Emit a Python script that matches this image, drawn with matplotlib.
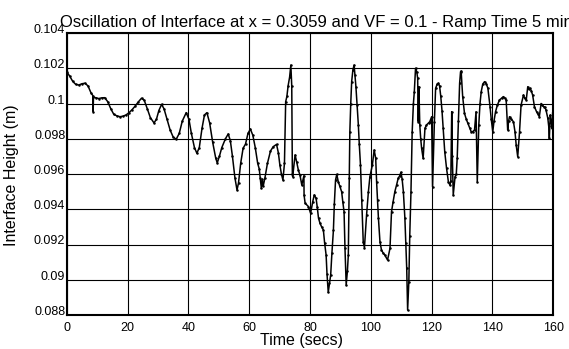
import matplotlib
matplotlib.use("Agg")
import matplotlib.pyplot as plt

# Time (s) and interface height (m)
time_s = [
    0, 1, 2, 3, 4, 5, 6, 7, 8, 8.6, 8.7, 8.8, 9.5, 10.5, 11.5, 12.5, 13.5, 14.5, 15.5,
    16.5, 17.5, 18.5, 19.5, 20.5, 21.5, 22.5, 23.5, 24.6, 25.5, 26.5, 27.5, 28.7, 29.5,
    30.3, 31.2, 32, 33, 34, 35, 36, 37, 38, 39.3, 40.2, 41, 42, 42.8, 43.6, 44.5, 45.3,
    46.1, 47, 48, 49, 49.5, 50.2, 51, 52.2, 53.1, 53.8, 54.5, 55.3, 56, 56.5, 57.2, 58,
    58.8, 59.6, 60.4, 61.2, 62, 62.8, 63.3, 63.6, 64, 64.3, 64.6, 65.2, 66, 67, 67.9,
    69, 69.6, 70.1, 70.6, 71.1, 71.6, 72, 72.4, 72.8, 73.3, 73.7, 74, 74.2, 74.3, 75.1,
    75.6, 76.2, 76.7, 77.3, 78, 78.05, 78.4, 79.5, 80.2, 80.9, 81.4, 82, 82.4, 82.8,
    83.3, 83.8, 84.4, 84.8, 85.3, 85.6, 86, 86.4, 86.8, 87.2, 87.7, 88, 88.4, 88.8,
    89.3, 89.8, 90.4, 90.8, 91.2, 91.5, 91.9, 92.3, 92.6, 92.9, 93.1, 93.4, 93.7, 94.1,
    94.5, 94.8, 95.1, 95.5, 95.9, 96.2, 96.6, 97, 97.5, 97.9, 98.6, 99.2, 99.7, 100.5,
    101.1, 101.6, 101.9, 102.2, 102.5, 103, 103.5, 104.1, 104.6, 105.5, 106.3, 106.8,
    107.3, 107.9, 108.5, 109, 109.5, 109.9, 110.3, 110.7, 111.2, 111.5, 111.8, 112.1,
    112.5, 112.8, 113.2, 113.6, 114, 114.3, 114.7, 115.1, 115.4, 115.6, 115.8, 116.1,
    116.4, 116.7, 117.2, 117.8, 118.3, 119, 119.4, 120, 120.3, 120.9, 121.3, 121.8,
    122.2, 122.6, 123, 123.4, 123.8, 124.3, 124.9, 125.5, 126, 126.3, 126.6, 126.8,
    127.1, 127.7, 128.1, 128.4, 128.8, 129.2, 129.5, 129.7, 130.2, 130.8, 131.4, 131.9,
    132.5, 133, 133.5, 134.1, 134.6, 135, 135.5, 135.9, 136.3, 136.8, 137.4, 138, 138.5,
    139.2, 139.6, 140.1, 140.5, 141, 141.6, 142.3, 143, 143.6, 144.1, 144.5, 145, 145.3,
    145.6, 146.2, 146.9, 147.4, 147.8, 148.3, 148.9, 149.4, 150.2, 150.6, 151.1, 151.6,
    152, 152.4, 152.8, 153.2, 153.8, 154.5, 155, 155.4, 156, 156.4, 156.8, 157.2, 157.6,
    158.2, 158.5, 158.7, 159, 159.3, 159.6, 159.8, 160,
]
height_m = [
    0.1018, 0.10155, 0.10125, 0.10108, 0.10105, 0.10112, 0.10115, 0.1010, 0.1006,
    0.10045, 0.09954, 0.10035, 0.10033, 0.10028, 0.10032, 0.10033, 0.1001, 0.0997,
    0.09938, 0.0993, 0.09925, 0.09928, 0.09935, 0.09948, 0.09965, 0.09985, 0.10008,
    0.1003, 0.10018, 0.0997, 0.0992, 0.0989, 0.0991, 0.0996, 0.09995, 0.0997, 0.0991,
    0.0985, 0.0981, 0.09797, 0.0983, 0.0990, 0.09948, 0.0991, 0.0983, 0.0975, 0.09718,
    0.0975, 0.0986, 0.09935, 0.09948, 0.0989, 0.0978, 0.0969, 0.09663, 0.0970, 0.0975,
    0.0980, 0.09827, 0.0979, 0.0970, 0.0958, 0.09509, 0.0955, 0.0966, 0.09746, 0.0977,
    0.0983, 0.09855, 0.0982, 0.0975, 0.0966, 0.0963, 0.0958, 0.09519, 0.0957, 0.0953,
    0.0958, 0.0966, 0.0973, 0.09755, 0.09768, 0.0972, 0.0965, 0.0960, 0.09566, 0.0966,
    0.1001, 0.1004, 0.1010, 0.1015, 0.10218, 0.1010, 0.0960, 0.09585, 0.09708, 0.0967,
    0.0962, 0.09594, 0.09538, 0.0959, 0.0948, 0.09434, 0.09415, 0.09377, 0.09443,
    0.09481, 0.09462, 0.0941, 0.09349, 0.0932, 0.09301, 0.09282, 0.0921, 0.0914,
    0.0903, 0.08929, 0.0898, 0.09027, 0.0915, 0.09282, 0.0943, 0.09566, 0.09598,
    0.09556, 0.0953, 0.095, 0.0944, 0.09386, 0.0918, 0.0897, 0.0905, 0.0914, 0.0958,
    0.0984, 0.1000, 0.10124, 0.1019, 0.10218, 0.1016, 0.10095, 0.0999, 0.09878, 0.0977,
    0.09651, 0.0945, 0.09216, 0.09182, 0.09367, 0.095, 0.09585, 0.09651, 0.09736,
    0.09689, 0.09556, 0.0945, 0.09349, 0.09216, 0.09169, 0.0915, 0.0914, 0.09112,
    0.09178, 0.09386, 0.0944, 0.095, 0.0954, 0.09576, 0.0959, 0.0961, 0.0957, 0.095,
    0.09349, 0.0921, 0.09065, 0.08828, 0.08989, 0.0925, 0.095, 0.0984, 0.1000, 0.10067,
    0.102, 0.1018, 0.10143, 0.09897, 0.10095, 0.09878, 0.0980, 0.09746, 0.09689,
    0.09859, 0.09878, 0.0989, 0.09897, 0.09925, 0.09528, 0.09897, 0.10086, 0.1011,
    0.10115, 0.1010, 0.1004, 0.0996, 0.0986, 0.09727, 0.09632, 0.09556, 0.09537, 0.0956,
    0.09953, 0.0970, 0.09481, 0.09585, 0.0960, 0.09689, 0.0990, 0.10115, 0.1018,
    0.10184, 0.10039, 0.09944, 0.0991, 0.09888, 0.0986, 0.0984, 0.0984, 0.0985, 0.09953,
    0.09556, 0.09878, 0.1000, 0.10067, 0.1011, 0.10124, 0.1011, 0.10086, 0.09982,
    0.0991, 0.0984, 0.0990, 0.09953, 0.0999, 0.1002, 0.1003, 0.10039, 0.1003, 0.1002,
    0.0985, 0.0990, 0.09925, 0.0991, 0.09897, 0.0984, 0.09764, 0.09698, 0.0984,
    0.09991, 0.10048, 0.1003, 0.1002, 0.10095, 0.1008, 0.10086, 0.1007, 0.10048,
    0.09982, 0.09953, 0.0994, 0.09925, 0.1000, 0.0999, 0.09982, 0.0998, 0.09963,
    0.09916, 0.0987, 0.09803, 0.09935, 0.0990, 0.09859, 0.0995, 0.0980,
]

x_ticks = [0, 20, 40, 60, 80, 100, 120, 140, 160]
y_ticks = [0.088, 0.09, 0.092, 0.094, 0.096, 0.098, 0.1, 0.102, 0.104]
y_tick_labels = ["0.088", "0.09", "0.092", "0.094", "0.096", "0.098", "0.1", "0.102", "0.104"]

plt.rcParams["font.family"] = ["Liberation Sans", "DejaVu Sans"]

fig = plt.figure(figsize=(5.69, 3.49), dpi=100)
ax = fig.add_axes([66.7 / 569, 1 - 315 / 349, (553.3 - 66.7) / 569, (315 - 33) / 349])

ax.plot(time_s, height_m, color="black", linewidth=1.1, marker="o",
        markersize=1.8, markerfacecolor="black", markeredgewidth=0)

ax.set_xlim(0, 160)
ax.set_ylim(0.088, 0.104)
ax.set_xticks(x_ticks)
ax.set_yticks(y_ticks)
ax.set_yticklabels(y_tick_labels)
ax.grid(True, color="black", linewidth=0.8)
ax.set_axisbelow(True)
ax.tick_params(axis="both", length=0, labelsize=9)
ax.tick_params(axis="x", pad=5)
ax.tick_params(axis="y", pad=1)
for lbl in ax.get_yticklabels():
    lbl.set_va("baseline")
for s in ax.spines.values():
    s.set_linewidth(1.5)
    s.set_color("black")

fig.text(60 / 569, 1 - 22 / 349,
         "Oscillation of Interface at x = 0.3059 and VF = 0.1 - Ramp Time 5 min",
         fontsize=12.0, ha="left", va="center")
fig.text(302 / 569, 1 - 340 / 349, "Time (secs)", fontsize=11.5, ha="center", va="center")
fig.text(12 / 569, 1 - 175 / 349, "Interface Height (m)", fontsize=11.5,
         ha="center", va="center", rotation=90)

fig.savefig("out.png", dpi=100)
